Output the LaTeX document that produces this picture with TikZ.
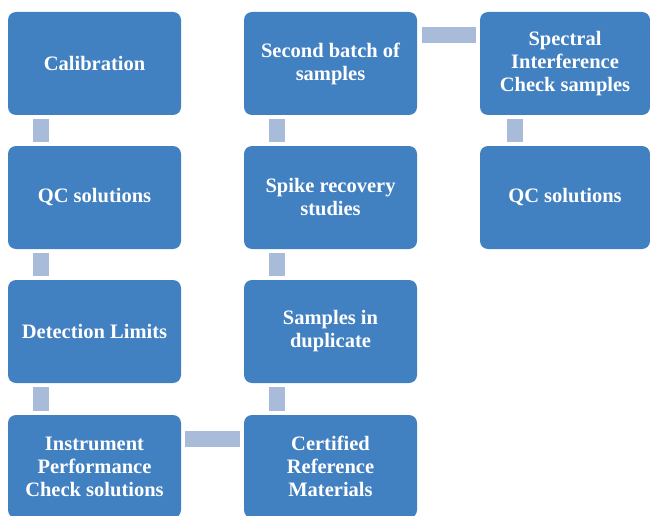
\documentclass[tikz,border=0pt]{standalone}
\usepackage{fontspec}
\setmainfont{Liberation Serif}
\definecolor{boxblue}{RGB}{65,128,193}
\definecolor{linkblue}{RGB}{168,188,218}
\tikzset{
    stage/.style={fill=boxblue, rounded corners=8pt, minimum width=173pt, minimum height=103pt,
        inner sep=2pt, text=white, align=center, font=\fontsize{20.5}{23}\selectfont\bfseries},
    link/.style={linkblue, line width=16pt}
}
\begin{document}
\begin{tikzpicture}[x=1pt, y=1pt]
    \useasboundingbox (0,0) rectangle (650,-516);

    \node[stage] (calib) at (94.5,-63.5) {Calibration};
    \node[stage] (qcone) at (94.5,-197.5) {QC solutions};
    \node[stage] (detlim) at (94.5,-331.5) {Detection Limits};
    \node[stage] (ipc) at (94.5,-466.5) {Instrument\\Performance\\Check solutions};

    \node[stage] (crm) at (330.5,-466.5) {Certified\\Reference\\Materials};
    \node[stage] (dupl) at (330.5,-331.5) {Samples in\\duplicate};
    \node[stage] (spike) at (330.5,-197.5) {Spike recovery\\studies};
    \node[stage] (second) at (330.5,-63.5) {Second batch of\\samples};

    \node[stage, minimum width=170pt] (sic) at (565,-63.5) {Spectral\\Interference\\Check samples};
    \node[stage, minimum width=170pt] (qctwo) at (565,-197.5) {QC solutions};

    \draw[link] ([xshift=33.5pt,yshift=-4pt]calib.south west) -- ([xshift=33.5pt,yshift=4pt]qcone.north west);
    \draw[link] ([xshift=33.5pt,yshift=-4pt]qcone.south west) -- ([xshift=33.5pt,yshift=4pt]detlim.north west);
    \draw[link] ([xshift=33.5pt,yshift=-4pt]detlim.south west) -- ([xshift=33.5pt,yshift=4pt]ipc.north west);
    \draw[link] ([xshift=4pt,yshift=-24pt]ipc.north east) -- ([xshift=-4pt,yshift=-24pt]crm.north west);
    \draw[link] ([xshift=33.5pt,yshift=4pt]crm.north west) -- ([xshift=33.5pt,yshift=-4pt]dupl.south west);
    \draw[link] ([xshift=33.5pt,yshift=4pt]dupl.north west) -- ([xshift=33.5pt,yshift=-4pt]spike.south west);
    \draw[link] ([xshift=33.5pt,yshift=4pt]spike.north west) -- ([xshift=33.5pt,yshift=-4pt]second.south west);
    \draw[link] ([xshift=5pt,yshift=-23.5pt]second.north east) -- ([xshift=-4pt,yshift=-23.5pt]sic.north west);
    \draw[link] ([xshift=35pt,yshift=-4pt]sic.south west) -- ([xshift=35pt,yshift=4pt]qctwo.north west);
\end{tikzpicture}
\end{document}
